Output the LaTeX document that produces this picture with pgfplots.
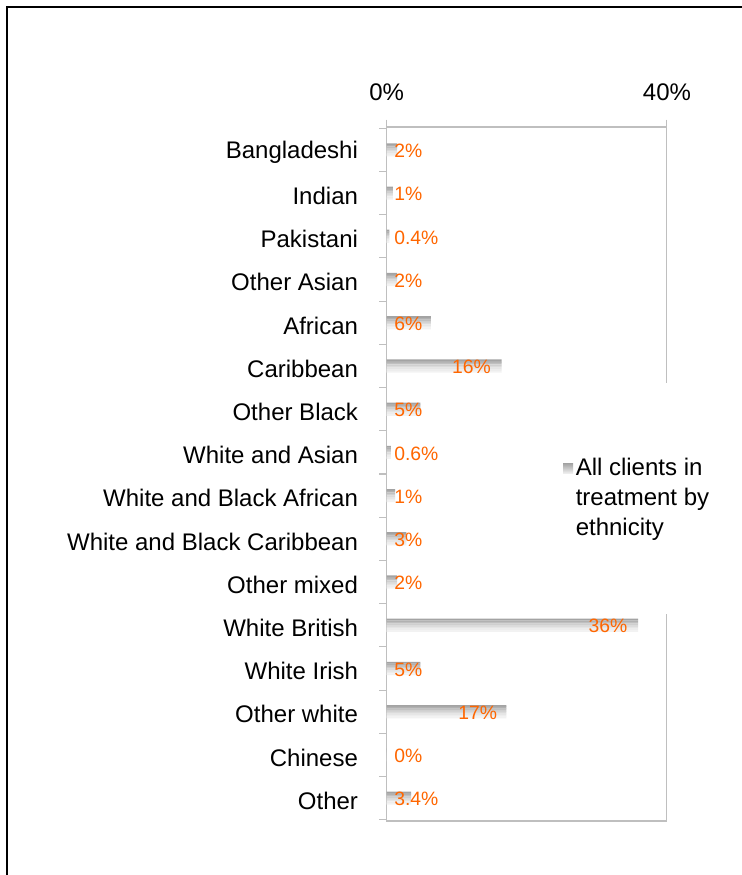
\documentclass[border=0pt]{standalone}
\usepackage{pgfplots}
\usepackage{pgfplotstable}
\pgfplotsset{compat=1.18}
\usepackage{fontspec}
\setmainfont{Liberation Sans}
\definecolor{lbl}{RGB}{255,102,0}
\definecolor{axc}{RGB}{191,191,191}

\pgfplotstableread{
y v lx lab
0 1.5 1.05 2
1 0.9 1.05 1
2 0.4 1.05 0.4
3 1.5 1.05 2
4 6.3 1.05 6
5 16.4 9.3 16
6 4.8 1.05 5
7 0.6 1.05 0.6
8 1.2 1.05 1
9 2.8 1.05 3
10 1.5 1.05 2
11 35.9 28.8 36
12 4.8 1.05 5
13 17.1 10.2 17
14 0 1.05 0
15 3.5 1.05 3.4
}\datatable

\begin{document}
\begin{tikzpicture}
\useasboundingbox (0,0) rectangle (556.5pt,656.25pt);
\draw[line width=1.5pt] (5.25pt,0pt) -- (5.25pt,651pt) -- (556.5pt,651pt);
\begin{axis}[
  at={(290pt,40.5pt)}, anchor=south west,
  width=210.2pt, height=520.5pt, scale only axis,
  xmin=0, xmax=40, ymin=-0.53, ymax=15.53, y dir=reverse,
  axis line style={draw=axc, line width=0.8pt},
  tick style={draw=axc, line width=0.8pt},
  tick align=outside,
  major tick length=5.5pt,
  xtick={0,40}, xticklabels={0\%,40\%},
  xtick pos=upper, xticklabel pos=upper,
  xticklabel style={font=\fontsize{18}{21.6}\selectfont, yshift=11pt},
  ytick={-0.5,0.5,...,15.5}, yticklabels={},
  ytick pos=left,
  extra y ticks={0,...,15},
  extra y tick labels={Bangladeshi,Indian,Pakistani,Other Asian,African,Caribbean,Other Black,White and Asian,White and Black African,White and Black Caribbean,Other mixed,White British,White Irish,Other white,Chinese,Other},
  extra y tick style={major tick length=0pt, yticklabel style={font=\fontsize{18}{21.6}\selectfont, xshift=-18pt, yshift=-2pt}},
  clip=false,
  legend style={at={(0.6,0.465)}, anchor=west, draw=none, fill=white,
    inner xsep=6pt, inner ysep=55pt,
    font=\fontsize{18}{22.5}\selectfont,
    cells={anchor=west, align=left}},
  legend image code/.code={\shade[top color=black!35,bottom color=black!5] (0pt,18.5pt) rectangle (7.5pt,26pt);},
  every axis plot/.append style={xbar, draw=none, bar width=1.35pt, forget plot},
]
\addplot[fill=black!36, bar shift=4.27pt] table[x=v, y=y] {\datatable};
\addplot[fill=black!31, bar shift=3.05pt] table[x=v, y=y] {\datatable};
\addplot[fill=black!25, bar shift=1.83pt] table[x=v, y=y] {\datatable};
\addplot[fill=black!19, bar shift=0.61pt] table[x=v, y=y] {\datatable};
\addplot[fill=black!14, bar shift=-0.61pt] table[x=v, y=y] {\datatable};
\addplot[fill=black!10, bar shift=-1.83pt] table[x=v, y=y] {\datatable};
\addplot[fill=black!7, bar shift=-3.05pt] table[x=v, y=y] {\datatable};
\addplot[fill=black!5, bar shift=-4.27pt] table[x=v, y=y] {\datatable};
\addlegendimage{}
\addlegendentry{All clients in\\treatment by\\ethnicity}
\addplot[xbar=false, only marks, mark=none, point meta=explicit symbolic,
  nodes near coords={\pgfplotspointmeta\%},
  nodes near coords style={anchor=west, inner sep=0pt, yshift=-0.8pt, text=lbl, font=\fontsize{14.5}{17}\selectfont}]
  table[x=lx, y=y, meta=lab] {\datatable};
\end{axis}
\end{tikzpicture}
\end{document}
